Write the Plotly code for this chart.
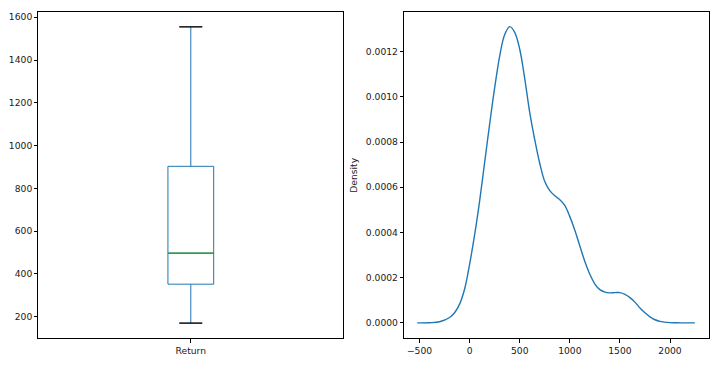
import plotly.graph_objects as go

# ---- data ----
box_category = ["Return"]
box_q1 = [352]
box_median = [497]
box_q3 = [903]
box_low = [170]
box_high = [1555]

kde_x = [-523, -400, -300, -200, -150, -100, -50, 0, 50, 100, 150, 200, 250, 300,
         350, 400, 450, 500, 550, 600, 650, 700, 750, 800, 850, 900, 950, 1000,
         1050, 1100, 1150, 1200, 1250, 1300, 1350, 1400, 1450, 1500, 1550, 1600,
         1650, 1700, 1750, 1800, 1850, 1900, 2000, 2100, 2248]
kde_y = [0.0000003, 0.000001, 0.000005, 0.000024, 0.000045, 0.000083, 0.00015,
         0.00026, 0.00039, 0.00054, 0.00071, 0.00088, 0.00104, 0.00118, 0.001275,
         0.00131, 0.001285, 0.00121, 0.00108, 0.00093, 0.00081, 0.000705, 0.000625,
         0.000585, 0.000562, 0.000545, 0.00052, 0.00047, 0.00041, 0.00034, 0.000272,
         0.000215, 0.000172, 0.000147, 0.000136, 0.000133, 0.000134, 0.000134,
         0.000126, 0.000112, 0.000092, 0.000066, 0.000045, 0.000027, 0.000014,
         0.000007, 0.0000015, 0.0000003, 0.0]

left_yticks = [200, 400, 600, 800, 1000, 1200, 1400, 1600]
right_xticks = [-500, 0, 500, 1000, 1500, 2000]
right_yticks = [0.0, 0.0002, 0.0004, 0.0006, 0.0008, 0.0010, 0.0012]

BLUE = "#1f77b4"
GREEN = "#2ca02c"
FONT = "DejaVu Sans"
FS = 9.2
TXT = "#1a1a1a"

fig = go.Figure()

# main box (no caps)
fig.add_trace(go.Box(
    x=box_category, q1=box_q1, median=box_median, q3=box_q3,
    lowerfence=box_low, upperfence=box_high,
    width=0.15, whiskerwidth=0, line=dict(color=BLUE, width=1),
    fillcolor="rgba(0,0,0,0)", boxpoints=False, showlegend=False,
    hoverinfo="skip", xaxis="x", yaxis="y"))
# median line (green)
fig.add_trace(go.Box(
    x=box_category, q1=box_median, median=box_median, q3=box_median,
    lowerfence=box_median, upperfence=box_median,
    width=0.15, whiskerwidth=0, line=dict(color=GREEN, width=0.7),
    fillcolor="rgba(0,0,0,0)", boxpoints=False, showlegend=False,
    hoverinfo="skip", xaxis="x", yaxis="y"))
# caps (black)
for v in (box_low, box_high):
    fig.add_trace(go.Box(
        x=box_category, q1=v, median=v, q3=v, lowerfence=v, upperfence=v,
        width=0.075, whiskerwidth=0, line=dict(color="black", width=0.7),
        fillcolor="rgba(0,0,0,0)", boxpoints=False, showlegend=False,
        hoverinfo="skip", xaxis="x", yaxis="y"))

# KDE
fig.add_trace(go.Scatter(
    x=kde_x, y=kde_y, mode="lines", line=dict(color=BLUE, width=1.4, shape="spline", smoothing=1.0),
    showlegend=False, hoverinfo="skip", xaxis="x2", yaxis="y2"))

ax_common = dict(showline=True, mirror=True, linecolor="black", linewidth=1,
                 ticks="outside", ticklen=3.2, tickwidth=1, tickcolor="black",
                 showgrid=False, zeroline=False, automargin=False,
                 tickfont=dict(family=FONT, size=FS, color=TXT))

fig.update_layout(
    width=726, height=372,
    margin=dict(l=0, r=0, t=0, b=0),
    paper_bgcolor="white", plot_bgcolor="white",
    boxmode="overlay",
    font=dict(family=FONT, size=FS, color=TXT),
    xaxis=dict(domain=[38.3 / 726, 343.3 / 726], type="category", range=[-0.5, 0.5],
               anchor="y", **ax_common),
    yaxis=dict(domain=[(372 - 338.3) / 372, (372 - 12.3) / 372], range=[99, 1623],
               tickvals=left_yticks, anchor="x", **ax_common),
    xaxis2=dict(domain=[404.0 / 726, 708.7 / 726], range=[-655, 2386],
                tickvals=right_xticks, anchor="y2", **ax_common),
    yaxis2=dict(domain=[(372 - 338.3) / 372, (372 - 12.3) / 372],
                range=[-0.000068, 0.0013735], tickvals=right_yticks,
                tickformat=".4f", anchor="x2",
                title=dict(text="Density", font=dict(family=FONT, size=FS, color=TXT),
                           standoff=6),
                **ax_common),
)

fig.write_html("out.html", config={"displayModeBar": False},
               post_script="document.body.style.margin='0px';")
